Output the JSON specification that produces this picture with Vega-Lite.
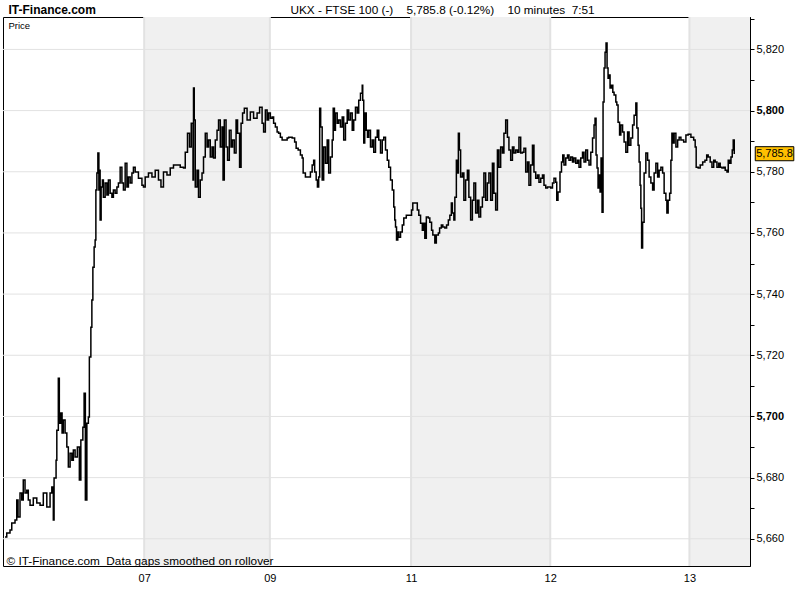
{
  "$schema": "https://vega.github.io/schema/vega-lite/v6.json",
  "width": 747,
  "height": 549,
  "autosize": "none",
  "padding": {"left": 3, "top": 17, "right": 50, "bottom": 34},
  "background": "white",
  "config": {
    "view": {"stroke": "black", "strokeWidth": 1},
    "font": "Liberation Sans, Arial, sans-serif",
    "axis": {"labelColor": "black", "titleColor": "black", "tickColor": "black", "domainColor": "black"}
  },
  "datasets": {
    "bands": [
      {"day": "07", "s": 56.4, "e": 106.6},
      {"day": "11", "s": 163.0, "e": 218.6},
      {"day": "13", "s": 274.2, "e": 298.4}
    ],
    "days": [
      {"day": "07", "d": 56.4},
      {"day": "09", "d": 106.6},
      {"day": "11", "d": 163.0},
      {"day": "12", "d": 218.6},
      {"day": "13", "d": 274.2}
    ],
    "levels": [
      {"lv": 5660}, {"lv": 5680}, {"lv": 5700}, {"lv": 5720}, {"lv": 5740},
      {"lv": 5760}, {"lv": 5780}, {"lv": 5800}, {"lv": 5820}
    ],
    "last": [{"last": 5785.8}],
    "price": [
      {"b": 0.8, "v": 5660.6}, {"b": 1.5, "v": 5661.9}, {"b": 2.8, "v": 5662.9}, {"b": 3.5, "v": 5665.2}, {"b": 4.8, "v": 5666.1},
      {"b": 5.5, "v": 5672.7}, {"b": 6.0, "v": 5667.1}, {"b": 6.8, "v": 5675.0}, {"b": 7.5, "v": 5672.7}, {"b": 8.1, "v": 5679.2},
      {"b": 8.8, "v": 5675.0}, {"b": 9.5, "v": 5675.9}, {"b": 10.1, "v": 5672.7}, {"b": 10.8, "v": 5671.0}, {"b": 12.1, "v": 5673.3},
      {"b": 13.5, "v": 5671.7}, {"b": 14.8, "v": 5671.0}, {"b": 16.1, "v": 5675.0}, {"b": 17.5, "v": 5670.4}, {"b": 18.8, "v": 5675.0},
      {"b": 19.5, "v": 5676.9}, {"b": 20.1, "v": 5666.1}, {"b": 20.4, "v": 5679.9}, {"b": 21.2, "v": 5685.7}, {"b": 21.5, "v": 5695.5},
      {"b": 22.1, "v": 5712.5}, {"b": 22.5, "v": 5697.8}, {"b": 23.1, "v": 5701.1}, {"b": 23.6, "v": 5694.6}, {"b": 24.1, "v": 5698.8},
      {"b": 24.8, "v": 5694.6}, {"b": 25.5, "v": 5690.0}, {"b": 26.1, "v": 5683.5}, {"b": 26.8, "v": 5688.0}, {"b": 27.5, "v": 5685.7},
      {"b": 28.1, "v": 5689.0}, {"b": 28.8, "v": 5686.7}, {"b": 29.7, "v": 5690.0}, {"b": 30.5, "v": 5679.2}, {"b": 31.1, "v": 5692.3},
      {"b": 31.9, "v": 5696.5}, {"b": 32.4, "v": 5707.6}, {"b": 32.9, "v": 5672.7}, {"b": 33.5, "v": 5697.8}, {"b": 34.1, "v": 5699.8},
      {"b": 34.5, "v": 5719.4}, {"b": 35.1, "v": 5729.2}, {"b": 35.5, "v": 5738.1}, {"b": 35.9, "v": 5748.8}, {"b": 36.4, "v": 5755.4},
      {"b": 36.8, "v": 5757.7}, {"b": 37.1, "v": 5774.0}, {"b": 37.5, "v": 5779.6}, {"b": 37.9, "v": 5786.1}, {"b": 38.3, "v": 5774.0},
      {"b": 38.5, "v": 5780.5}, {"b": 38.8, "v": 5764.2}, {"b": 39.2, "v": 5775.0}, {"b": 39.7, "v": 5777.3}, {"b": 40.1, "v": 5771.7},
      {"b": 40.8, "v": 5776.3}, {"b": 41.5, "v": 5772.4}, {"b": 42.1, "v": 5777.3}, {"b": 42.8, "v": 5773.0}, {"b": 43.5, "v": 5771.7},
      {"b": 44.1, "v": 5774.0}, {"b": 44.8, "v": 5773.0}, {"b": 45.5, "v": 5775.0}, {"b": 46.1, "v": 5776.3}, {"b": 46.8, "v": 5781.5},
      {"b": 47.5, "v": 5776.3}, {"b": 48.1, "v": 5774.0}, {"b": 48.8, "v": 5782.8}, {"b": 49.5, "v": 5775.0}, {"b": 50.1, "v": 5778.3},
      {"b": 50.8, "v": 5776.3}, {"b": 51.5, "v": 5779.6}, {"b": 52.1, "v": 5781.5},
      {"b": 52.8, "v": 5779.9}, {"b": 54.1, "v": 5777.9}, {"b": 55.5, "v": 5775.6}, {"b": 56.1, "v": 5775.0}, {"b": 56.8, "v": 5778.3},
      {"b": 58.1, "v": 5779.6}, {"b": 59.5, "v": 5778.3}, {"b": 60.8, "v": 5780.5}, {"b": 62.1, "v": 5777.3}, {"b": 63.1, "v": 5775.0},
      {"b": 64.1, "v": 5779.9}, {"b": 65.5, "v": 5778.9}, {"b": 66.8, "v": 5781.2}, {"b": 68.1, "v": 5782.2}, {"b": 69.5, "v": 5782.2},
      {"b": 70.8, "v": 5781.5}, {"b": 72.1, "v": 5781.2}, {"b": 72.8, "v": 5786.4}, {"b": 73.7, "v": 5792.6}, {"b": 74.5, "v": 5788.1},
      {"b": 75.2, "v": 5795.9}, {"b": 75.9, "v": 5777.3}, {"b": 76.1, "v": 5807.4}, {"b": 76.4, "v": 5796.9}, {"b": 76.8, "v": 5775.0},
      {"b": 77.5, "v": 5780.5}, {"b": 78.1, "v": 5771.7}, {"b": 78.8, "v": 5777.3}, {"b": 79.5, "v": 5779.6}, {"b": 80.1, "v": 5784.8},
      {"b": 80.8, "v": 5792.6}, {"b": 81.5, "v": 5788.1}, {"b": 82.1, "v": 5790.4}, {"b": 82.8, "v": 5784.8}, {"b": 83.5, "v": 5788.1},
      {"b": 84.1, "v": 5784.5}, {"b": 84.8, "v": 5790.4}, {"b": 85.5, "v": 5793.6}, {"b": 86.1, "v": 5796.9}, {"b": 86.8, "v": 5788.1},
      {"b": 87.5, "v": 5794.6}, {"b": 87.9, "v": 5777.3}, {"b": 88.4, "v": 5796.9}, {"b": 89.1, "v": 5788.1}, {"b": 89.7, "v": 5783.8},
      {"b": 90.4, "v": 5793.6}, {"b": 91.1, "v": 5788.1}, {"b": 91.7, "v": 5790.4}, {"b": 92.4, "v": 5786.1}, {"b": 93.1, "v": 5796.9},
      {"b": 93.7, "v": 5792.6}, {"b": 94.5, "v": 5781.5}, {"b": 95.1, "v": 5795.9}, {"b": 95.7, "v": 5799.2}, {"b": 96.4, "v": 5800.8},
      {"b": 97.5, "v": 5796.9}, {"b": 98.8, "v": 5799.5}, {"b": 100.1, "v": 5797.5}, {"b": 101.5, "v": 5799.2}, {"b": 102.5, "v": 5801.1},
      {"b": 103.5, "v": 5795.9}, {"b": 104.1, "v": 5793.0}, {"b": 104.8, "v": 5800.2}, {"b": 105.5, "v": 5796.9}, {"b": 106.1, "v": 5799.2},
      {"b": 106.8, "v": 5797.5}, {"b": 107.5, "v": 5797.9}, {"b": 108.1, "v": 5795.9}, {"b": 108.8, "v": 5794.6}, {"b": 109.5, "v": 5793.0},
      {"b": 110.1, "v": 5792.6}, {"b": 110.8, "v": 5791.3}, {"b": 111.5, "v": 5790.4}, {"b": 112.8, "v": 5790.4}, {"b": 113.5, "v": 5791.0},
      {"b": 114.1, "v": 5791.3}, {"b": 115.5, "v": 5791.0}, {"b": 116.5, "v": 5789.7}, {"b": 117.1, "v": 5787.7}, {"b": 117.9, "v": 5787.1},
      {"b": 118.8, "v": 5785.5}, {"b": 119.5, "v": 5784.5}, {"b": 119.9, "v": 5779.6}, {"b": 120.8, "v": 5778.3}, {"b": 121.9, "v": 5778.3},
      {"b": 122.8, "v": 5779.9}, {"b": 123.5, "v": 5782.2}, {"b": 124.1, "v": 5783.8}, {"b": 124.5, "v": 5779.9}, {"b": 125.1, "v": 5777.3},
      {"b": 125.6, "v": 5775.0}, {"b": 126.1, "v": 5778.3}, {"b": 126.5, "v": 5800.8}, {"b": 126.9, "v": 5794.6}, {"b": 127.5, "v": 5777.3},
      {"b": 128.1, "v": 5788.1}, {"b": 128.8, "v": 5782.8}, {"b": 129.5, "v": 5790.4}, {"b": 130.1, "v": 5779.6}, {"b": 130.8, "v": 5784.8},
      {"b": 131.5, "v": 5790.4}, {"b": 131.9, "v": 5800.8}, {"b": 132.4, "v": 5793.6}, {"b": 132.8, "v": 5799.2}, {"b": 133.5, "v": 5795.9},
      {"b": 134.1, "v": 5796.9}, {"b": 134.8, "v": 5794.6}, {"b": 135.5, "v": 5797.9}, {"b": 136.1, "v": 5790.4}, {"b": 136.8, "v": 5795.9},
      {"b": 137.5, "v": 5800.2}, {"b": 138.1, "v": 5796.9}, {"b": 138.8, "v": 5799.2}, {"b": 139.5, "v": 5793.6}, {"b": 140.1, "v": 5796.9},
      {"b": 140.8, "v": 5801.1}, {"b": 141.5, "v": 5799.2}, {"b": 142.1, "v": 5803.4}, {"b": 142.8, "v": 5805.7}, {"b": 143.5, "v": 5808.3},
      {"b": 143.7, "v": 5803.4}, {"b": 144.1, "v": 5789.4}, {"b": 144.5, "v": 5799.2}, {"b": 145.1, "v": 5793.6}, {"b": 145.6, "v": 5791.3},
      {"b": 146.1, "v": 5793.6}, {"b": 146.8, "v": 5788.1}, {"b": 147.5, "v": 5790.4}, {"b": 148.1, "v": 5786.4}, {"b": 148.8, "v": 5791.3},
      {"b": 149.5, "v": 5793.6}, {"b": 150.1, "v": 5790.4}, {"b": 150.8, "v": 5786.1}, {"b": 151.5, "v": 5790.4}, {"b": 152.1, "v": 5791.3},
      {"b": 152.8, "v": 5787.1},
      {"b": 153.5, "v": 5783.8}, {"b": 154.1, "v": 5781.5}, {"b": 154.8, "v": 5777.3}, {"b": 155.5, "v": 5774.0}, {"b": 156.1, "v": 5768.5},
      {"b": 156.5, "v": 5764.2}, {"b": 156.8, "v": 5761.9}, {"b": 157.2, "v": 5757.7}, {"b": 157.7, "v": 5760.3}, {"b": 158.1, "v": 5758.6},
      {"b": 158.8, "v": 5760.3}, {"b": 159.5, "v": 5762.6}, {"b": 160.1, "v": 5764.9}, {"b": 161.1, "v": 5765.8}, {"b": 162.1, "v": 5765.8},
      {"b": 163.2, "v": 5767.5}, {"b": 163.7, "v": 5769.8}, {"b": 164.5, "v": 5769.8}, {"b": 165.5, "v": 5767.5}, {"b": 166.1, "v": 5765.8},
      {"b": 166.8, "v": 5763.2}, {"b": 167.5, "v": 5760.9}, {"b": 168.1, "v": 5763.2}, {"b": 168.5, "v": 5758.3}, {"b": 169.1, "v": 5765.2},
      {"b": 169.9, "v": 5764.9}, {"b": 170.5, "v": 5763.5}, {"b": 171.2, "v": 5760.9}, {"b": 171.7, "v": 5759.3}, {"b": 172.5, "v": 5756.7},
      {"b": 173.1, "v": 5759.3}, {"b": 173.9, "v": 5760.0}, {"b": 174.4, "v": 5761.6}, {"b": 175.1, "v": 5762.6}, {"b": 175.7, "v": 5761.9},
      {"b": 176.5, "v": 5761.6}, {"b": 177.2, "v": 5762.6}, {"b": 177.9, "v": 5764.2}, {"b": 178.5, "v": 5765.8}, {"b": 179.1, "v": 5769.8},
      {"b": 179.5, "v": 5766.5}, {"b": 180.1, "v": 5764.2}, {"b": 180.5, "v": 5771.7}, {"b": 181.1, "v": 5783.8}, {"b": 181.5, "v": 5779.6},
      {"b": 181.9, "v": 5792.6}, {"b": 182.3, "v": 5787.1}, {"b": 182.8, "v": 5778.3}, {"b": 183.5, "v": 5779.6}, {"b": 184.1, "v": 5770.7},
      {"b": 184.8, "v": 5777.3}, {"b": 185.5, "v": 5780.5}, {"b": 186.1, "v": 5771.7}, {"b": 186.8, "v": 5764.2}, {"b": 187.5, "v": 5770.7},
      {"b": 188.1, "v": 5776.3}, {"b": 188.8, "v": 5766.5}, {"b": 189.5, "v": 5770.7}, {"b": 190.1, "v": 5765.2}, {"b": 190.8, "v": 5768.5},
      {"b": 191.5, "v": 5771.7}, {"b": 192.1, "v": 5779.6}, {"b": 192.8, "v": 5770.7}, {"b": 193.5, "v": 5776.3}, {"b": 194.1, "v": 5779.6},
      {"b": 194.8, "v": 5770.7}, {"b": 195.5, "v": 5782.8}, {"b": 196.1, "v": 5773.0}, {"b": 196.8, "v": 5767.5}, {"b": 197.5, "v": 5787.1},
      {"b": 198.1, "v": 5781.5}, {"b": 198.8, "v": 5788.1}, {"b": 199.5, "v": 5786.1}, {"b": 200.1, "v": 5792.6}, {"b": 200.8, "v": 5796.9},
      {"b": 201.5, "v": 5791.3}, {"b": 202.1, "v": 5787.1}, {"b": 202.8, "v": 5783.8}, {"b": 203.5, "v": 5788.1}, {"b": 204.1, "v": 5786.1},
      {"b": 204.8, "v": 5787.1}, {"b": 205.5, "v": 5786.4}, {"b": 206.1, "v": 5791.3}, {"b": 206.8, "v": 5786.1},
      {"b": 207.5, "v": 5786.4}, {"b": 208.1, "v": 5787.7}, {"b": 208.8, "v": 5779.9}, {"b": 209.5, "v": 5783.2}, {"b": 210.1, "v": 5775.6},
      {"b": 210.8, "v": 5782.2}, {"b": 211.5, "v": 5788.7}, {"b": 212.1, "v": 5779.9}, {"b": 212.8, "v": 5777.9}, {"b": 213.5, "v": 5778.9},
      {"b": 214.1, "v": 5776.6}, {"b": 214.8, "v": 5777.9}, {"b": 215.5, "v": 5778.9}, {"b": 216.1, "v": 5775.6}, {"b": 216.8, "v": 5774.7},
      {"b": 217.5, "v": 5775.0}, {"b": 218.8, "v": 5774.7}, {"b": 219.5, "v": 5776.3}, {"b": 220.1, "v": 5777.9}, {"b": 220.8, "v": 5776.6},
      {"b": 221.2, "v": 5770.7}, {"b": 221.7, "v": 5773.4}, {"b": 222.5, "v": 5779.9}, {"b": 223.1, "v": 5783.2}, {"b": 223.6, "v": 5785.5},
      {"b": 224.1, "v": 5782.2}, {"b": 224.8, "v": 5784.5}, {"b": 225.5, "v": 5785.5}, {"b": 226.1, "v": 5783.8}, {"b": 226.8, "v": 5784.8},
      {"b": 227.5, "v": 5783.2}, {"b": 228.1, "v": 5784.5}, {"b": 228.8, "v": 5782.8}, {"b": 229.5, "v": 5783.8}, {"b": 230.1, "v": 5781.5},
      {"b": 230.8, "v": 5784.5}, {"b": 231.5, "v": 5786.4}, {"b": 232.1, "v": 5783.2}, {"b": 232.8, "v": 5787.1}, {"b": 233.5, "v": 5783.8},
      {"b": 234.1, "v": 5782.2}, {"b": 234.8, "v": 5786.4}, {"b": 235.5, "v": 5791.0}, {"b": 236.1, "v": 5795.3}, {"b": 236.5, "v": 5797.5},
      {"b": 236.9, "v": 5785.5}, {"b": 237.3, "v": 5781.2}, {"b": 237.7, "v": 5774.7}, {"b": 238.1, "v": 5778.9}, {"b": 238.5, "v": 5773.4},
      {"b": 238.9, "v": 5784.5}, {"b": 239.3, "v": 5766.8}, {"b": 239.7, "v": 5802.8}, {"b": 240.1, "v": 5813.9}, {"b": 240.5, "v": 5819.1},
      {"b": 240.9, "v": 5822.1}, {"b": 241.3, "v": 5813.9}, {"b": 241.7, "v": 5810.6}, {"b": 242.1, "v": 5811.6}, {"b": 242.5, "v": 5807.4},
      {"b": 243.1, "v": 5808.3}, {"b": 243.6, "v": 5806.0}, {"b": 244.1, "v": 5805.1}, {"b": 244.8, "v": 5802.8}, {"b": 245.2, "v": 5801.8},
      {"b": 245.7, "v": 5796.2}, {"b": 246.3, "v": 5792.0}, {"b": 246.8, "v": 5795.3}, {"b": 247.5, "v": 5793.0}, {"b": 248.1, "v": 5789.7},
      {"b": 248.8, "v": 5786.4}, {"b": 249.5, "v": 5793.0}, {"b": 250.1, "v": 5788.7}, {"b": 250.8, "v": 5791.0}, {"b": 251.5, "v": 5795.3},
      {"b": 252.1, "v": 5798.5}, {"b": 252.8, "v": 5802.5}, {"b": 253.2, "v": 5794.3}, {"b": 253.7, "v": 5788.7}, {"b": 254.1, "v": 5783.2},
      {"b": 254.5, "v": 5775.6}, {"b": 254.8, "v": 5768.1}, {"b": 255.1, "v": 5755.1}, {"b": 255.5, "v": 5763.5},
      {"b": 256.1, "v": 5779.6}, {"b": 256.8, "v": 5786.1}, {"b": 257.5, "v": 5783.8}, {"b": 258.1, "v": 5778.3}, {"b": 258.8, "v": 5776.3},
      {"b": 259.5, "v": 5774.0}, {"b": 260.1, "v": 5779.6}, {"b": 260.8, "v": 5782.8}, {"b": 261.5, "v": 5778.3}, {"b": 262.1, "v": 5780.5},
      {"b": 262.8, "v": 5781.5}, {"b": 263.5, "v": 5779.6}, {"b": 264.1, "v": 5773.0}, {"b": 264.8, "v": 5770.7}, {"b": 265.2, "v": 5766.5},
      {"b": 265.7, "v": 5770.7}, {"b": 266.3, "v": 5773.0}, {"b": 266.8, "v": 5783.8}, {"b": 267.2, "v": 5792.6}, {"b": 267.7, "v": 5789.4},
      {"b": 268.1, "v": 5792.6}, {"b": 268.8, "v": 5788.1}, {"b": 269.5, "v": 5790.4}, {"b": 270.1, "v": 5791.3}, {"b": 270.8, "v": 5790.4},
      {"b": 271.9, "v": 5789.7}, {"b": 272.8, "v": 5792.0}, {"b": 273.7, "v": 5792.3}, {"b": 274.8, "v": 5791.3}, {"b": 275.9, "v": 5790.4},
      {"b": 276.5, "v": 5788.1}, {"b": 276.9, "v": 5781.5}, {"b": 277.7, "v": 5781.2}, {"b": 278.5, "v": 5782.2}, {"b": 279.5, "v": 5783.2},
      {"b": 280.4, "v": 5783.8}, {"b": 281.1, "v": 5785.5}, {"b": 281.7, "v": 5784.8}, {"b": 282.5, "v": 5783.2}, {"b": 283.2, "v": 5781.5},
      {"b": 283.9, "v": 5783.8}, {"b": 284.5, "v": 5783.2}, {"b": 285.2, "v": 5781.5}, {"b": 285.9, "v": 5782.8}, {"b": 286.5, "v": 5781.5},
      {"b": 287.2, "v": 5781.2}, {"b": 287.9, "v": 5781.5}, {"b": 288.5, "v": 5780.5}, {"b": 289.2, "v": 5779.9}, {"b": 289.7, "v": 5783.8},
      {"b": 290.3, "v": 5782.8}, {"b": 290.8, "v": 5784.8}, {"b": 291.3, "v": 5787.1}, {"b": 291.7, "v": 5790.4}, {"b": 292.1, "v": 5785.8}
    ]
  },
  "resolve": {"axis": {"x": "independent", "y": "independent"}},
  "layer": [
    {
      "data": {"name": "bands"},
      "mark": {"type": "rect", "fill": "#f0f0f0"},
      "encoding": {
        "x": {"field": "s", "type": "quantitative", "scale": {"domain": [0, 298.4], "nice": false, "zero": false}, "axis": null},
        "x2": {"field": "e"}
      }
    },
    {
      "data": {"name": "days"},
      "mark": {"type": "rule", "stroke": "#e2e2e2", "strokeWidth": 2},
      "encoding": {
        "x": {"field": "d", "type": "quantitative", "scale": {"domain": [0, 298.4], "nice": false, "zero": false},
          "axis": {"orient": "top", "labels": false, "ticks": false, "domain": false, "grid": false,
            "title": "UKX - FTSE 100 (-)\u00a0\u00a0\u00a0 5,785.8 (-0.12%)\u00a0\u00a0\u00a0 10 minutes\u00a0 7:51",
            "titleX": 439, "titleY": -8, "titleAlign": "center", "titleBaseline": "middle", "titleAnchor": null,
            "titleFontSize": 11.8, "titleFontWeight": "normal", "titleColor": "black"}}
      }
    },
    {
      "data": {"name": "levels"},
      "mark": {"type": "rule", "stroke": "#e2e2e2", "strokeWidth": 1},
      "encoding": {
        "y": {"field": "lv", "type": "quantitative", "scale": {"domain": [5651.1, 5830.6], "nice": false, "zero": false},
          "axis": {"orient": "left", "labels": false, "ticks": false, "domain": false, "grid": false, "zindex": 1,
            "title": "Price", "titleAngle": 0, "titleX": 5, "titleY": 8, "titleAlign": "left", "titleBaseline": "middle",
            "titleFontSize": 9.5, "titleFontWeight": "normal", "titleColor": "black"}}
      }
    },
    {
      "data": {"name": "price"},
      "mark": {"type": "line", "stroke": "black", "strokeWidth": 1.5, "interpolate": "step-after"},
      "encoding": {
        "x": {"field": "b", "type": "quantitative", "scale": {"domain": [0, 298.4], "nice": false, "zero": false},
          "axis": {"orient": "bottom", "values": [56.4, 106.6, 163.0, 218.6, 274.2], "zindex": 1,
            "labelExpr": "datum.value < 60 ? '07' : datum.value < 110 ? '09' : datum.value < 170 ? '11' : datum.value < 250 ? '12' : '13'",
            "ticks": false, "domain": false, "grid": false, "labelFontSize": 11, "labelPadding": 6, "labelBaseline": "top",
            "title": "© IT-Finance.com\u00a0 Data gaps smoothed on rollover", "titleX": 3, "titleY": -6, "titleAlign": "left",
            "titleBaseline": "middle", "titleAnchor": null, "titleFontSize": 11.8, "titleFontWeight": "normal", "titleColor": "black"}},
        "y": {"field": "v", "type": "quantitative", "scale": {"domain": [5651.1, 5830.6], "nice": false, "zero": false},
          "axis": {"orient": "right", "values": [5660, 5670, 5680, 5690, 5700, 5710, 5720, 5730, 5740, 5750, 5760, 5770, 5780, 5790, 5800, 5810, 5820, 5830],
            "labelExpr": "datum.value % 20 === 0 ? format(datum.value, ',') : ''",
            "labelFontWeight": {"condition": {"test": "datum.value % 100 === 0", "value": "bold"}, "value": "normal"},
            "grid": false, "tickSize": 4, "labelPadding": 2, "labelFontSize": 11, "domain": true,
            "title": "IT-Finance.com", "titleAngle": 0, "titleX": -742, "titleY": -8, "titleAlign": "left", "titleBaseline": "middle",
            "titleAnchor": null, "titleFontSize": 12, "titleFontWeight": "bold", "titleColor": "black"}}
      }
    },
    {
      "data": {"name": "last"},
      "mark": {"type": "rect", "fill": "#ffc000", "stroke": "black", "strokeWidth": 1, "clip": false},
      "encoding": {
        "x": {"datum": 300.5, "type": "quantitative", "scale": {"domain": [0, 298.4], "nice": false, "zero": false}, "axis": null},
        "x2": {"datum": 315.9},
        "y": {"datum": 5788.2, "type": "quantitative", "scale": {"domain": [5651.1, 5830.6], "nice": false, "zero": false}, "axis": null},
        "y2": {"datum": 5783.6}
      }
    },
    {
      "data": {"name": "last"},
      "mark": {"type": "text", "fontSize": 11, "color": "black", "align": "center", "baseline": "middle", "clip": false},
      "encoding": {
        "x": {"datum": 308.2, "type": "quantitative", "scale": {"domain": [0, 298.4], "nice": false, "zero": false}, "axis": null},
        "y": {"field": "last", "type": "quantitative", "scale": {"domain": [5651.1, 5830.6], "nice": false, "zero": false}, "axis": null},
        "text": {"field": "last", "type": "quantitative", "format": ",.1f"}
      }
    }
  ]
}
